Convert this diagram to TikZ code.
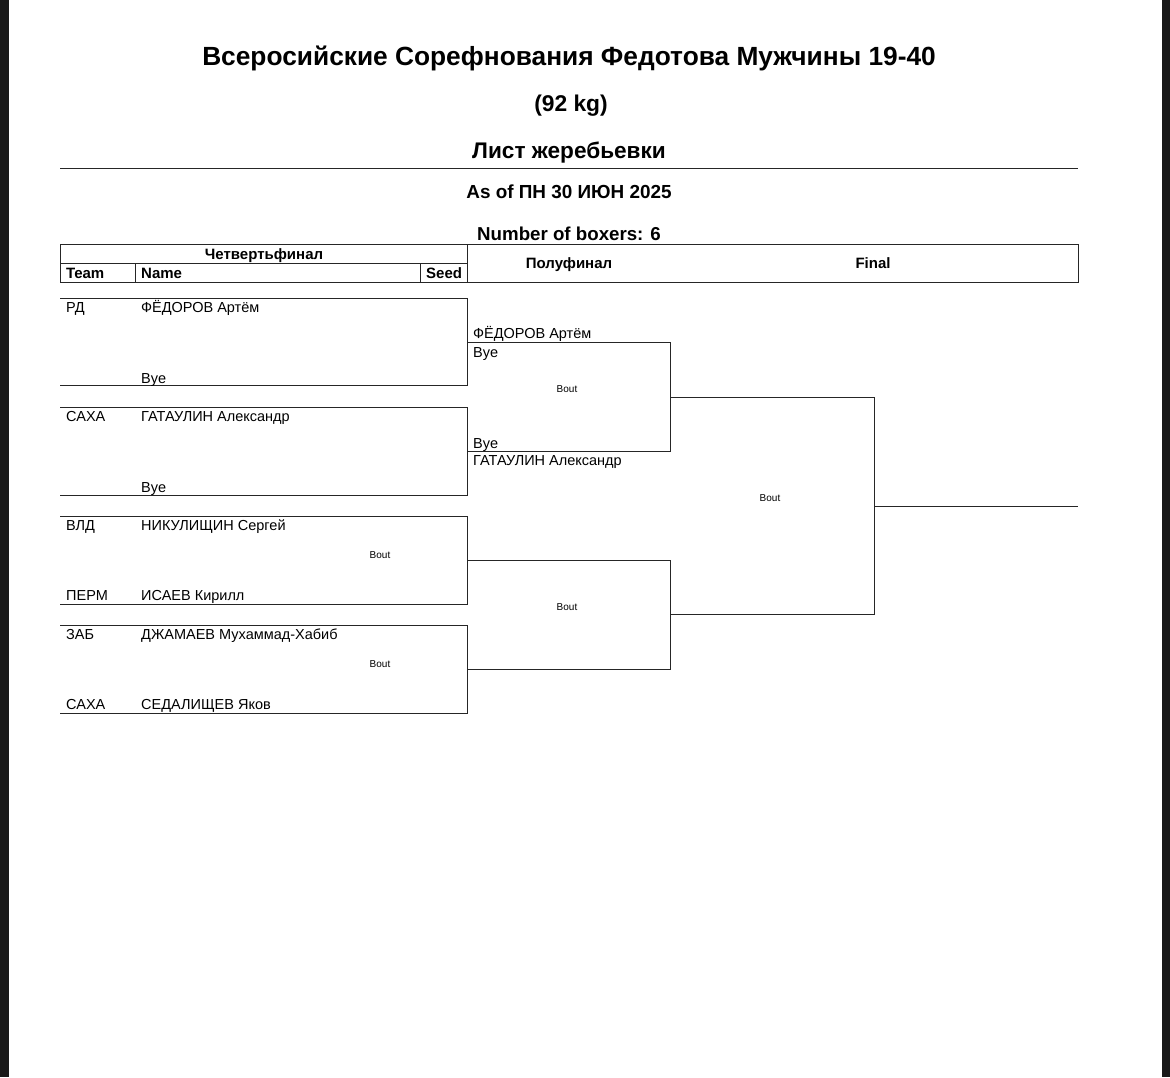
\documentclass[tikz,border=0pt]{standalone}
\usepackage{fontspec}
\setmainfont{Liberation Sans}
\begin{document}
\begin{tikzpicture}[x=1pt,y=-1pt,
  line/.style={draw=black!85,line width=1pt},
  lbl/.style={inner sep=0pt,anchor=base west,font=\fontsize{14.5}{16}\selectfont},
  hdr/.style={inner sep=0pt,anchor=base west,font=\bfseries\fontsize{15}{17}\selectfont},
  hdrc/.style={inner sep=0pt,anchor=base,font=\bfseries\fontsize{15}{17}\selectfont},
  bout/.style={inner sep=0pt,anchor=base,font=\fontsize{10}{12}\selectfont},
  ttl/.style={inner sep=0pt,anchor=base,font=\bfseries\fontsize{#1}{#1}\selectfont}]
\useasboundingbox (0,0) rectangle (1170,1077);
\fill[white] (0,0) rectangle (1170,1077);
\fill[black!90] (0,0) rectangle (9,1077);
\fill[black!90] (1162,0) rectangle (1170,1077);
% titles
\node[ttl=26.3] (t1) at (569,65) {Всеросийские Сорефнования Федотова Мужчины 19-40};
\node[ttl=22.8] (t2) at (571,111.5) {(92 kg)};
\node[ttl=22.6] (t3) at (569,158) {Лист жеребьевки};
\coordinate (r1) at (60,168); \coordinate (r2) at (1078,168);
\draw[line] (r1) -- (r2);
\node[ttl=18.9] (t4) at (569,198) {As of ПН 30 ИЮН 2025};
\node[ttl=18.7] (t5) at (569,240.5) {Number of boxers: 6};
% header table
\draw[line] (60,244) rectangle (1078,282);
\draw[line] (60,263) -- (467,263);
\draw[line] (135,263) -- (135,282);
\draw[line] (420,263) -- (420,282);
\draw[line] (467,244) -- (467,282);
\node[hdrc] (hq) at (264,259) {Четвертьфинал};
\node[hdr] (hteam) at (66,278.5) {Team};
\node[hdr] (hname) at (141,278.5) {Name};
\node[hdr] (hseed) at (426,278.5) {Seed};
\node[hdrc] (hsf) at (569,268.5) {Полуфинал};
\node[hdrc] (hf) at (873,268.5) {Final};
% quarterfinal boxes
\foreach \t/\b/\n in {298/385/q1,407/495/q2,516/604/q3,625/713/q4}{
  \coordinate (\n a) at (60,\t); \coordinate (\n b) at (467,\t);
  \coordinate (\n c) at (467,\b); \coordinate (\n d) at (60,\b);
  \draw[line] (\n a) -- (\n b) -- (\n c) -- (\n d);
}
\node[lbl] (q1t) at (66,312) {РД};
\node[lbl] (q1n) at (141,312) {ФЁДОРОВ Артём};
\node[lbl] (q1y) at (141,383) {Bye};
\node[lbl] (q2t) at (66,421) {САХА};
\node[lbl] (q2n) at (141,421) {ГАТАУЛИН Александр};
\node[lbl] (q2y) at (141,492) {Bye};
\node[lbl] (q3t) at (66,530) {ВЛД};
\node[lbl] (q3n) at (141,530) {НИКУЛИЩИН Сергей};
\node[bout] (q3o) at (380,558.5) {Bout};
\node[lbl] (q3t2) at (66,600) {ПЕРМ};
\node[lbl] (q3n2) at (141,600) {ИСАЕВ Кирилл};
\node[lbl] (q4t) at (66,639) {ЗАБ};
\node[lbl] (q4n) at (141,639) {ДЖАМАЕВ Мухаммад-Хабиб};
\node[bout] (q4o) at (380,667.5) {Bout};
\node[lbl] (q4t2) at (66,709) {САХА};
\node[lbl] (q4n2) at (141,709) {СЕДАЛИЩЕВ Яков};
% semifinals
\coordinate (s1a) at (467,342); \coordinate (s1b) at (670,342);
\coordinate (s1c) at (670,451); \coordinate (s1d) at (467,451);
\draw[line] (s1a) -- (s1b) -- (s1c) -- (s1d);
\coordinate (s2a) at (467,560); \coordinate (s2b) at (670,560);
\coordinate (s2c) at (670,669); \coordinate (s2d) at (467,669);
\draw[line] (s2a) -- (s2b) -- (s2c) -- (s2d);
\node[lbl] (s1n) at (473,338) {ФЁДОРОВ Артём};
\node[lbl] (s1y) at (473,357) {Bye};
\node[bout] (s1o) at (567,392.5) {Bout};
\node[lbl] (s1y2) at (473,448) {Bye};
\node[lbl] (s1n2) at (473,465) {ГАТАУЛИН Александр};
\node[bout] (s2o) at (567,610.5) {Bout};
% final
\coordinate (fa) at (670,397); \coordinate (fb) at (874,397);
\coordinate (fc) at (874,614); \coordinate (fd) at (670,614);
\draw[line] (fa) -- (fb) -- (fc) -- (fd);
\node[bout] (fo) at (770,501.5) {Bout};
\coordinate (w1) at (874,506); \coordinate (w2) at (1078,506);
\draw[line] (w1) -- (w2);
\end{tikzpicture}
\end{document}
